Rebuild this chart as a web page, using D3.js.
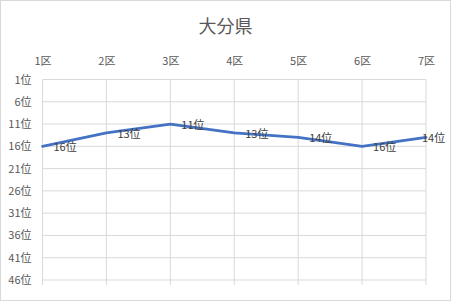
<!DOCTYPE html>
<html>
<head>
<meta charset="utf-8">
<script src="https://cdn.jsdelivr.net/npm/d3@7"></script>
<style>
  body { margin: 0; background: #fff; }
  svg { display: block; font-family: "Noto Sans CJK JP", "Noto Sans", sans-serif; }
</style>
</head>
<body>
<script>
// chart data
let districts = ['1区', '2区', '3区', '4区', '5区', '6区', '7区'];
let ranks = [16, 13, 11, 13, 14, 16, 14];
let rankTicks = [1, 6, 11, 16, 21, 26, 31, 36, 41, 46];
let chartTitle = '大分県';

var draw = function() {
  let width = 451, height = 301;
  let margin = {top: 79.5, right: 25, bottom: 21, left: 42.5};

  var svg = d3.select('body').append('svg')
      .attr('width', width)
      .attr('height', height);

  // outer border
  svg.append('rect')
      .attr('x', 0.5).attr('y', 0.5)
      .attr('width', width - 1).attr('height', height - 1)
      .attr('fill', '#fff')
      .attr('stroke', '#d9d9d9');

  svg.append('text')
      .attr('x', 225.5)
      .attr('y', 33)
      .attr('text-anchor', 'middle')
      .attr('fill', '#595959')
      .attr('font-size', '18px')
      .text(chartTitle);

  var x = d3.scalePoint()
      .domain(districts)
      .range([margin.left, width - margin.right]);

  var y = d3.scaleLinear()
      .domain([1, 46])
      .range([margin.top, height - margin.bottom]);

  // horizontal grid
  svg.append('g').selectAll('line')
    .data(rankTicks)
    .enter().append('line')
      .attr('x1', margin.left).attr('x2', width - margin.right)
      .attr('y1', d => y(d)).attr('y2', d => y(d))
      .attr('stroke', '#d9d9d9');

  // vertical grid
  svg.append('g').selectAll('line')
    .data(districts)
    .enter().append('line')
      .attr('x1', d => x(d)).attr('x2', d => x(d))
      .attr('y1', y(1)).attr('y2', y(46) + 5)
      .attr('stroke', '#d9d9d9');

  // top axis labels
  var topAxis = svg.append('g')
      .attr('transform', 'translate(0,' + (margin.top - 15) + ')')
      .call(d3.axisTop(x).tickSize(0).tickPadding(0));
  topAxis.select('.domain').remove();
  topAxis.selectAll('text')
      .attr('fill', '#595959')
      .attr('font-size', '11px')
      .attr('font-family', '"Noto Sans CJK JP", sans-serif');

  // left axis labels
  var leftAxis = svg.append('g')
      .attr('transform', 'translate(' + (margin.left - 11) + ',0)')
      .call(d3.axisLeft(y).tickValues(rankTicks).tickSize(0).tickPadding(0)
        .tickFormat(d => d + '位'));
  leftAxis.select('.domain').remove();
  leftAxis.selectAll('text')
      .attr('fill', '#595959')
      .attr('font-size', '11px')
      .attr('font-family', '"Noto Sans CJK JP", sans-serif');

  var line = d3.line()
      .x((d, i) => x(districts[i]))
      .y(d => y(d));

  svg.append('path')
      .datum(ranks)
      .attr('fill', 'none')
      .attr('stroke', '#4472c4')
      .attr('stroke-width', 2.75)
      .attr('stroke-linejoin', 'round')
      .attr('stroke-linecap', 'round')
      .attr('d', line);

  // data labels, kept inside the chart area at the right edge
  svg.append('g').selectAll('text')
    .data(ranks)
    .enter().append('text')
      .attr('x', (d, i) => Math.min(x(districts[i]) + 11, width - 29))
      .attr('y', d => y(d) + 5)
      .attr('fill', '#404040')
      .attr('font-size', '11px')
      .text(d => d + '位');
};

window.onload = function() {
  draw();
};
</script>
</body>
</html>
